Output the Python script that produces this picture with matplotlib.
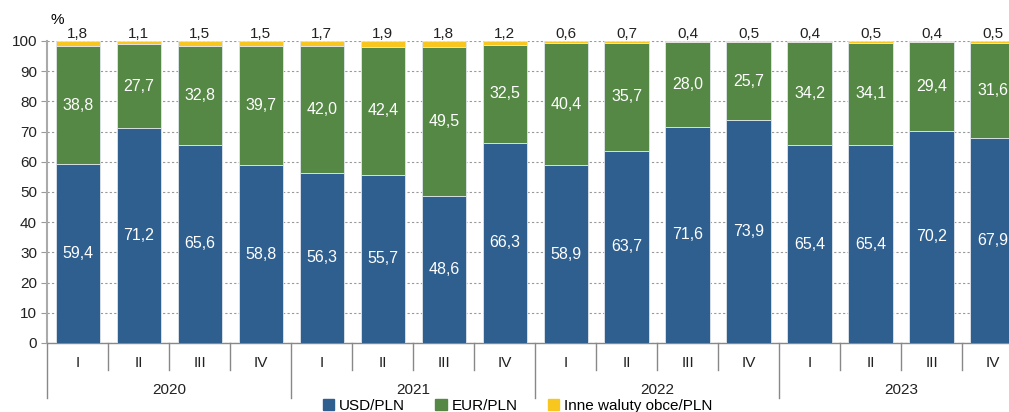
import numpy as np
import matplotlib.pyplot as plt
from matplotlib.patches import Patch

plt.rcParams['font.family'] = ['Liberation Sans', 'DejaVu Sans']

# Data
years = ["2020", "2021", "2022", "2023"]
quarters = ["I", "II", "III", "IV"]
usd = [59.4, 71.2, 65.6, 58.8, 56.3, 55.7, 48.6, 66.3,
       58.9, 63.7, 71.6, 73.9, 65.4, 65.4, 70.2, 67.9]
eur = [38.8, 27.7, 32.8, 39.7, 42.0, 42.4, 49.5, 32.5,
       40.4, 35.7, 28.0, 25.7, 34.2, 34.1, 29.4, 31.6]
other = [1.8, 1.1, 1.5, 1.5, 1.7, 1.9, 1.8, 1.2,
         0.6, 0.7, 0.4, 0.5, 0.4, 0.5, 0.4, 0.5]

c_usd = "#2e5f8f"
c_eur = "#558745"
c_oth = "#f7c71f"

def fmt(v):
    return f"{v:.1f}".replace(".", ",")

fig = plt.figure(figsize=(10.09, 4.12), dpi=100)
ax = fig.add_axes([0.047, 0.1675, 0.967, 0.733])

x = np.arange(len(usd))
usd = np.array(usd)
eur = np.array(eur)
other = np.array(other)

w = 0.73
ax.bar(x, usd, w, color=c_usd, edgecolor="#dfe6ec", linewidth=0.6, zorder=3)
ax.bar(x, eur, w, bottom=usd, color=c_eur, edgecolor="#dfe6ec", linewidth=0.6, zorder=3)
ax.bar(x, other, w, bottom=usd + eur, color=c_oth, edgecolor="#dfe6ec", linewidth=0.6, zorder=3)

for i in x:
    ax.text(i, usd[i] / 2, fmt(usd[i]), ha="center", va="center",
            color="white", fontsize=11.5, zorder=4)
    ax.text(i, usd[i] + eur[i] / 2, fmt(eur[i]), ha="center", va="center",
            color="white", fontsize=11.5, zorder=4)
    ax.text(i, 100.0, fmt(other[i]), ha="center", va="bottom",
            color="#222222", fontsize=11, zorder=4)

ax.set_xlim(-0.5, len(usd) - 0.5)
ax.set_ylim(0, 100)
ax.set_yticks(range(0, 101, 10))
ax.tick_params(axis="y", labelsize=11, length=4, color="#999999", labelcolor="#222222")
ax.yaxis.grid(True, linestyle=(0, (2, 2)), color="#999999", linewidth=0.8, zorder=0)
ax.set_xticks([])

for s in ["top", "right"]:
    ax.spines[s].set_visible(False)
ax.spines["left"].set_color("#aaaaaa")
ax.spines["left"].set_linewidth(1.5)
ax.spines["bottom"].set_color("#888888")
ax.spines["bottom"].set_linewidth(1.0)

ax.text(0.003, 1.045, "%", transform=ax.transAxes, fontsize=11, ha="left", va="bottom")

# Category axis: quarters and years
trans = ax.get_xaxis_transform()
for i in x:
    ax.text(i, -0.065, quarters[i % 4], transform=trans, ha="center", va="center",
            fontsize=11, color="#222222")
for k in range(len(usd) + 1):
    edge = k - 0.5
    bottom = -0.183 if k % 4 == 0 else -0.09
    ax.plot([edge, edge], [0, bottom], transform=trans, color="#888888",
            linewidth=1.0, clip_on=False)
for j, yr in enumerate(years):
    ax.text(4 * j + 1.5, -0.155, yr, transform=trans, ha="center", va="center",
            fontsize=11, color="#222222")

handles = [Patch(color=c_usd, label="USD/PLN"),
           Patch(color=c_eur, label="EUR/PLN"),
           Patch(color=c_oth, label="Inne waluty obce/PLN")]
fig.legend(handles=handles, loc="lower center", bbox_to_anchor=(0.513, -0.035),
           ncol=3, frameon=False, fontsize=11, handlelength=0.75, handleheight=0.75,
           handletextpad=0.3, columnspacing=2.0)

fig.savefig("out.png", dpi=100)
